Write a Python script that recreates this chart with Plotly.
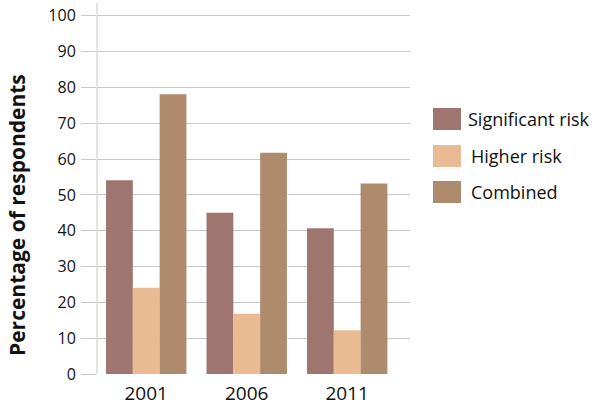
import plotly.graph_objects as go

years = ["2001", "2006", "2011"]
significant_risk = [54.1, 45.0, 40.7]
higher_risk = [24.1, 16.8, 12.2]
combined = [78.1, 61.8, 53.2]
series_names = ["Significant risk", "Higher risk", "Combined"]
series_colors = ["#9e756f", "#e8bb92", "#ae8b6d"]
y_ticks = [0, 10, 20, 30, 40, 50, 60, 70, 80, 90, 100]

FONT = "Open Sans"
fig = go.Figure()
for name, vals, col in zip(series_names, [significant_risk, higher_risk, combined], series_colors):
    fig.add_trace(go.Bar(x=years, y=vals, name=name, marker=dict(color=col, line=dict(width=0)),
                         showlegend=False))

# custom legend (swatches + text) at the right
L, R, T, B = 97, 190, 3, 34
W, H = 600, 408
pw, ph = W - L - R, H - T - B
def px_x(x):
    return (x - L) / pw
def px_y(y):
    return (H - B - y) / ph

rows = [119, 156, 192]
for i, (name, col) in enumerate(zip(series_names, series_colors)):
    cy = rows[i]
    fig.add_shape(type="rect", xref="paper", yref="paper",
                  x0=px_x(433), x1=px_x(461), y0=px_y(cy - 11), y1=px_y(cy + 11),
                  fillcolor=col, line=dict(width=0))
    fig.add_annotation(xref="paper", yref="paper", x=px_x(466 if i == 0 else 469), y=px_y(cy),
                       text=name, showarrow=False, xanchor="left", yanchor="middle",
                       font=dict(family=FONT, size=18, color="#111111"))

fig.add_annotation(xref="paper", yref="paper", x=px_x(17), y=px_y(215),
                   text="<b>Percentage of respondents</b>", showarrow=False, textangle=-90,
                   xanchor="center", yanchor="middle",
                   font=dict(family=FONT, size=21, color="#111111"))

fig.update_layout(
    width=W, height=H,
    margin=dict(l=L, r=R, t=T, b=B, pad=0),
    paper_bgcolor="white", plot_bgcolor="white",
    barmode="group", bargap=0.2, bargroupgap=0,
    font=dict(family=FONT, color="#111111"),
)
fig.update_xaxes(range=[-0.49, 2.625], showgrid=False, zeroline=False, showline=False,
                 ticks="", tickfont=dict(size=19, family=FONT, color="#111111"),
                 ticklabelstandoff=6)
fig.update_yaxes(range=[0, 103.6], tickvals=y_ticks, showgrid=True, gridcolor="#c8c8c8", gridwidth=1,
                 zeroline=False, showline=False, ticks="outside", ticklen=15, tickcolor="#c8c8c8",
                 tickwidth=1, tickfont=dict(size=16, family=FONT, color="#111111"),
                 ticklabelstandoff=2)
# vertical axis line
fig.add_shape(type="line", xref="paper", yref="paper", x0=0, x1=0, y0=0, y1=1,
              line=dict(color="#c8c8c8", width=1))

fig.write_html("out.html", config={"displayModeBar": False},
               post_script="document.body.style.margin='0px';")
